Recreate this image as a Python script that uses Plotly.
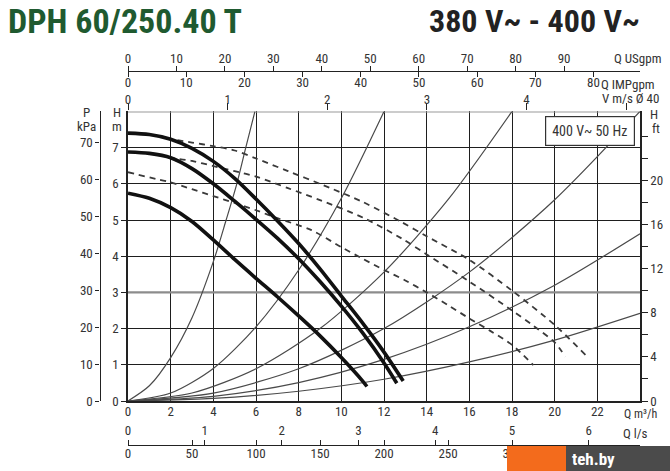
import plotly.graph_objects as go

W, H = 670, 471

# ---------------- data ----------------
# Pump curves (solid, thick): Q [m3/h] -> H [m]
pump_q_hi = [0, 1, 2, 3, 4, 5, 6, 7, 8, 9, 10, 11, 12, 12.9]
pump_h_hi = [7.40, 7.36, 7.23, 6.98, 6.62, 6.15, 5.58, 4.98, 4.35, 3.65, 2.9, 2.15, 1.35, 0.55]

pump_q_mid = [0, 1, 2, 3, 4, 5, 6, 7, 8, 9, 10, 11, 12, 12.6]
pump_h_mid = [6.88, 6.84, 6.72, 6.42, 6.0, 5.52, 5.02, 4.5, 3.93, 3.3, 2.62, 1.88, 1.05, 0.49]

pump_q_lo = [0, 1, 2, 3, 4, 5, 6, 7, 8, 9, 10, 11, 11.2]
pump_h_lo = [5.74, 5.6, 5.34, 4.96, 4.45, 3.91, 3.39, 2.88, 2.35, 1.8, 1.2, 0.55, 0.4]

# Dashed curves
dash_q_1 = [1.8, 3, 4, 5, 6, 7.5, 9, 11, 12.8, 14, 16, 18, 20, 21.45]
dash_h_1 = [7.25, 7.14, 7.04, 6.92, 6.7, 6.35, 6.0, 5.5, 4.95, 4.55, 3.9, 3.05, 2.1, 1.27]

dash_q_2 = [1.9, 3, 4, 5, 6, 7.5, 9, 11, 12.8, 14, 16, 18, 19, 20, 20.5]
dash_h_2 = [6.72, 6.63, 6.49, 6.35, 6.2, 5.88, 5.55, 5.07, 4.5, 4.05, 3.3, 2.5, 2.08, 1.62, 1.22]

dash_q_3 = [0, 1.4, 2, 3, 4, 5, 6, 7, 8.6, 10, 11, 12, 13, 14, 15, 16, 17, 18, 19]
dash_h_3 = [6.32, 6.12, 6.04, 5.85, 5.66, 5.47, 5.27, 5.05, 4.72, 4.25, 3.93, 3.62, 3.33, 3.0, 2.65, 2.28, 1.93, 1.55, 0.99]

# System curves (thin)
sys_q_1 = [0, 1, 2, 3, 4, 4.6, 5.1, 5.52, 5.95]
sys_h_1 = [0, 0.42, 1.2, 2.3, 3.85, 5.0, 6.0, 7.0, 8.0]
sys_q_2 = [0, 2, 4, 6, 8, 10, 12]
sys_h_2 = [0, 0.22, 0.9, 2.05, 3.62, 5.6, 8.0]
sys_q_3 = [0, 3, 6, 9, 12, 15, 18]
sys_h_3 = [0, 0.22, 0.89, 2.0, 3.56, 5.56, 8.0]
sys_q_4 = [0, 4, 8, 12, 16, 20, 24]
sys_h_4 = [0, 0.22, 0.89, 2.0, 3.56, 5.56, 8.0]
sys_q_5 = [0, 4, 8, 12, 16, 20, 24]
sys_h_5 = [0, 0.13, 0.51, 1.15, 2.05, 3.2, 4.62]
sys_q_6 = [0, 4, 8, 12, 16, 20, 24]
sys_h_6 = [0, 0.07, 0.27, 0.6, 1.08, 1.68, 2.42]

# Axis ticks
q_ticks = [0, 2, 4, 6, 8, 10, 12, 14, 16, 18, 20, 22]
h_ticks = [0, 1, 2, 3, 4, 5, 6, 7]
p_ticks = [0, 10, 20, 30, 40, 50, 60, 70]
ft_ticks = [0, 2, 4, 6, 8, 10, 12, 14, 16, 18, 20, 22, 24]
ft_labels = ["0", "", "4", "", "8", "", "12", "", "16", "", "20", "", ""]
usgpm_ticks = [0, 10, 20, 30, 40, 50, 60, 70, 80, 90]
impgpm_ticks = [0, 10, 20, 30, 40, 50, 60, 70, 80]
v_ticks = [0, 1, 2, 3, 4, 5]
v_labels = ["0", "1", "2", "3", "4", ""]
ls_ticks = [0, 1, 2, 3, 4, 5, 6]
lmin_ticks = [0, 50, 100, 150, 200, 250, 300]

Q_MAX, H_MAX = 24, 8
KPA_PER_M = 9.81
FT_PER_M = 3.2808
USGPM_PER_M3H = 4.4029
IMPGPM_PER_M3H = 3.6662
M3H_PER_MS = 4.67
LS_PER_M3H = 1 / 3.6
LMIN_PER_M3H = 1000 / 60

# ---------------- layout helpers ----------------
FONT = "Liberation Sans Narrow, Arial Narrow, Roboto Condensed, Liberation Sans, sans-serif"
TXT = "#333333"
def px(x): return x / W
def py(y): return 1 - y / H

X0, X1 = 128, 640
Y0, Y1 = 401, 111.4

fig = go.Figure()

for q, h in [(sys_q_1, sys_h_1), (sys_q_2, sys_h_2), (sys_q_3, sys_h_3),
             (sys_q_4, sys_h_4), (sys_q_5, sys_h_5), (sys_q_6, sys_h_6)]:
    fig.add_trace(go.Scatter(x=q, y=h, mode="lines",
                             line=dict(color="#4a4a4a", width=1.2, shape="spline", smoothing=0.8),
                             hoverinfo="skip", showlegend=False))

for q, h in [(dash_q_1, dash_h_1), (dash_q_2, dash_h_2), (dash_q_3, dash_h_3)]:
    fig.add_trace(go.Scatter(x=q, y=h, mode="lines",
                             line=dict(color="#3a3a3a", width=1.8, dash="6px,5px", shape="spline", smoothing=0.8),
                             hoverinfo="skip", showlegend=False))

for q, h in [(pump_q_hi, pump_h_hi), (pump_q_mid, pump_h_mid), (pump_q_lo, pump_h_lo)]:
    fig.add_trace(go.Scatter(x=q, y=h, mode="lines",
                             line=dict(color="#111111", width=3.6, shape="spline", smoothing=0.8),
                             hoverinfo="skip", showlegend=False))

# invisible traces to activate the auxiliary axes
for xa, ya in [("x2", "y"), ("x3", "y"), ("x4", "y"), ("x5", "y"), ("x6", "y"), ("x", "y2"), ("x", "y3")]:
    fig.add_trace(go.Scatter(x=[0], y=[0], xaxis=xa, yaxis=ya, mode="markers",
                             marker=dict(opacity=0), hoverinfo="skip", showlegend=False))

tf = dict(family=FONT, size=13, color=TXT)
xdom = [px(X0), px(X1)]
ydom = [py(Y0), py(Y1)]

common = dict(tickfont=tf, zeroline=False, fixedrange=True, tickcolor="#222", linecolor="#222")

fig.update_layout(
    width=W, height=H, margin=dict(l=0, r=0, t=0, b=0, autoexpand=False),
    paper_bgcolor="white", plot_bgcolor="white", showlegend=False,
    font=dict(family=FONT, color=TXT),
    xaxis=dict(domain=xdom, range=[0, Q_MAX], tickmode="array", tickvals=q_ticks, showgrid=True,
               gridcolor="#1e1e1e", gridwidth=1.3, showline=True, linewidth=1.5, ticks="",
               ticklabelstandoff=-2, **common),
    yaxis=dict(domain=ydom, range=[0, H_MAX], tickmode="array", tickvals=h_ticks, showgrid=True,
               gridcolor="#1e1e1e", gridwidth=1.3, showline=True, linewidth=1.5, ticks="outside",
               ticklen=5, **common),
    yaxis2=dict(overlaying="y", anchor="free", position=px(99.5), side="left",
                range=[0, H_MAX * KPA_PER_M], tickmode="array", tickvals=p_ticks, showgrid=False,
                showline=True, linewidth=1.3, ticks="outside", ticklen=4, **common),
    yaxis3=dict(overlaying="y", anchor="x", side="right", range=[0, H_MAX * FT_PER_M],
                tickmode="array", tickvals=ft_ticks, ticktext=ft_labels, showgrid=False,
                showline=True, linewidth=1.5, ticks="outside", ticklen=6, **common),
    xaxis2=dict(overlaying="x", anchor="free", position=py(71), side="top",
                range=[0, Q_MAX * USGPM_PER_M3H], tickmode="array", tickvals=usgpm_ticks,
                showgrid=False, showline=True, linewidth=1.3, ticks="outside", ticklen=5,
                ticklabelstandoff=-2, **common),
    xaxis3=dict(overlaying="x", anchor="free", position=py(71), side="bottom",
                range=[0, Q_MAX * IMPGPM_PER_M3H], tickmode="array", tickvals=impgpm_ticks,
                showgrid=False, showline=True, linewidth=1.3, ticks="outside", ticklen=5,
                ticklabelstandoff=-6, **common),
    xaxis4=dict(overlaying="x", anchor="y", side="top", range=[0, Q_MAX / M3H_PER_MS],
                tickmode="array", tickvals=v_ticks, ticktext=v_labels, showgrid=False,
                showline=False, ticks="outside", ticklen=7, ticklabelstandoff=-6, **common),
    xaxis5=dict(overlaying="x", anchor="free", position=py(445), side="top",
                range=[0, Q_MAX * LS_PER_M3H], tickmode="array", tickvals=ls_ticks,
                showgrid=False, showline=True, linewidth=1.3, ticks="outside", ticklen=5, **common),
    xaxis6=dict(overlaying="x", anchor="free", position=py(445), side="bottom",
                range=[0, Q_MAX * LMIN_PER_M3H], tickmode="array", tickvals=lmin_ticks,
                showgrid=False, showline=True, linewidth=1.3, ticks="inside", ticklen=5,
                ticklabelstandoff=-4, **common),
)

shapes = [
    dict(type="line", xref="x", yref="y", x0=0, x1=Q_MAX, y0=H_MAX, y1=H_MAX,
         line=dict(color="#9a9a9a", width=2.2), layer="between"),
    dict(type="line", xref="x", yref="y", x0=0, x1=Q_MAX, y0=3, y1=3,
         line=dict(color="#8c8c8c", width=2.2), layer="between"),
    dict(type="rect", xref="paper", yref="paper", x0=px(507), x1=px(566), y0=0, y1=py(446),
         fillcolor="#f36b1c", line=dict(width=0), layer="above"),
    dict(type="rect", xref="paper", yref="paper", x0=px(566), x1=1, y0=0, y1=py(446),
         fillcolor="#4b4b4b", line=dict(width=0), layer="above"),
]
fig.update_layout(shapes=shapes)

def ann(text, x, y, xanchor="left", size=13, color=TXT, **kw):
    fig.add_annotation(text=text, x=px(x), y=py(y), xref="paper", yref="paper", showarrow=False,
                       xanchor=xanchor, yanchor="middle", font=dict(family=FONT, size=size, color=color), **kw)

ann("<b>DPH 60/250.40 T</b>", 6, 21, size=34, color="#1f5a30")
ann("<b>380 V~ - 400 V~</b>", 642, 21, xanchor="right", size=32, color="#222222")
ann("Q USgpm", 612, 59)
ann("Q IMPgpm", 599, 85)
ann("V m/s Ø 40", 600, 99)
ann("P", 86, 113, xanchor="center")
ann("kPa", 86, 127, xanchor="center")
ann("H", 117, 113, xanchor="center")
ann("m", 117, 127, xanchor="center")
ann("H", 648, 115)
ann("ft", 650, 129)
ann("Q m³/h", 622, 414, size=12)
ann("Q l/s", 621, 433)
ann("400 V~ 50 Hz", 590, 131, xanchor="center", size=14, bgcolor="white", bordercolor="#333333",
    borderwidth=1.2, borderpad=6)
ann("<b>teh.by</b>", 570, 459, size=17, color="white")

fig.write_html("out.html", config={"displayModeBar": False},
               post_script="document.body.style.margin='0';document.body.style.padding='0';document.body.style.overflow='hidden';")
